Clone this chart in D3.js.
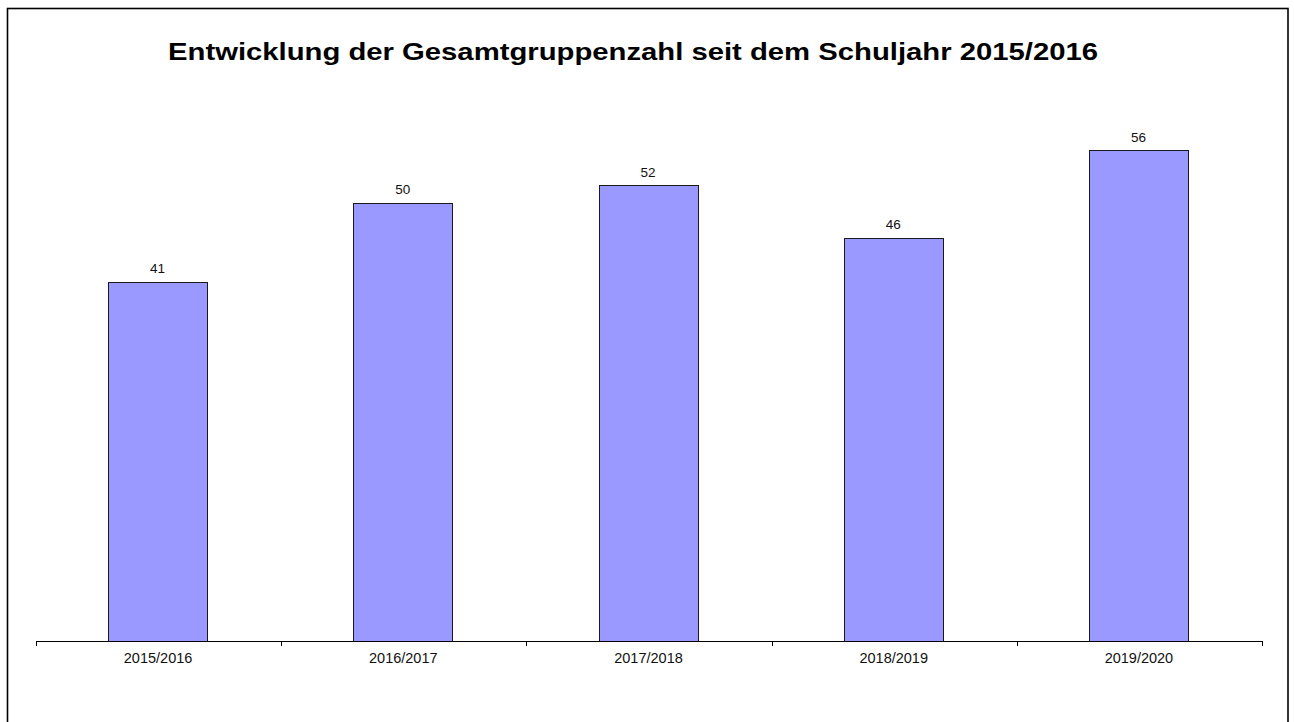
<!DOCTYPE html>
<html><head><meta charset="utf-8">
<script src="https://cdn.jsdelivr.net/npm/d3@7"></script>
<style>body{margin:0;background:#fff;} svg{display:block;}</style>
</head><body>
<svg id="c" width="1294" height="722"></svg>
<script>
const categories = ["2015/2016","2016/2017","2017/2018","2018/2019","2019/2020"];
const values = [41, 50, 52, 46, 56];
const title = "Entwicklung der Gesamtgruppenzahl seit dem Schuljahr 2015/2016";

const svg = d3.select("#c");
const font = "'Liberation Sans', Arial, sans-serif";

svg.append("rect").attr("x",7.5).attr("y",8.5).attr("width",1280.5).attr("height",730)
  .attr("fill","#fff").attr("stroke","#000").attr("stroke-width",1.6);

const x = d3.scaleBand().domain(categories).range([36,1262]).paddingInner(0.5963).paddingOuter(0.298);
const y = d3.scaleLinear().domain([0,60]).range([641, 641-8.765*60]);

svg.append("text").attr("x",633).attr("y",60).attr("text-anchor","middle")
  .attr("font-family",font).attr("font-weight","bold").attr("font-size",24)
  .attr("textLength",930).attr("lengthAdjust","spacingAndGlyphs").text(title);

svg.selectAll("rect.bar").data(values).join("rect").attr("class","bar")
  .attr("x",(d,i)=>Math.round(x(categories[i]))-0.5)
  .attr("y",d=>Math.round(y(d))+0.5)
  .attr("width",Math.round(x.bandwidth()))
  .attr("height",d=>641-Math.round(y(d)))
  .attr("fill","#9999ff").attr("stroke","#1a1a1a").attr("stroke-width",1);

svg.selectAll("text.val").data(values).join("text").attr("class","val")
  .attr("x",(d,i)=>x(categories[i])+x.bandwidth()/2-1)
  .attr("y",d=>y(d)-8.5)
  .attr("text-anchor","middle").attr("font-family",font).attr("font-size",13.5).attr("fill","#111")
  .text(d=>d);

// axis
const xAxisG = svg.append("g");
xAxisG.append("line").attr("x1",36).attr("x2",1262).attr("y1",641.5).attr("y2",641.5).attr("stroke","#000");
const step = (1262-36)/categories.length;
const tickPos = d3.range(categories.length+1).map(i=>36+i*step);
xAxisG.selectAll("line.tk").data(tickPos).join("line").attr("class","tk")
  .attr("x1",d=>Math.round(d)+0.5).attr("x2",d=>Math.round(d)+0.5).attr("y1",641).attr("y2",646).attr("stroke","#000");
xAxisG.selectAll("text").data(categories).join("text")
  .attr("x",d=>x(d)+x.bandwidth()/2-0.5).attr("y",663)
  .attr("text-anchor","middle").attr("font-family",font).attr("font-size",14.5).attr("fill","#111")
  .text(d=>d);
</script>
</body></html>
